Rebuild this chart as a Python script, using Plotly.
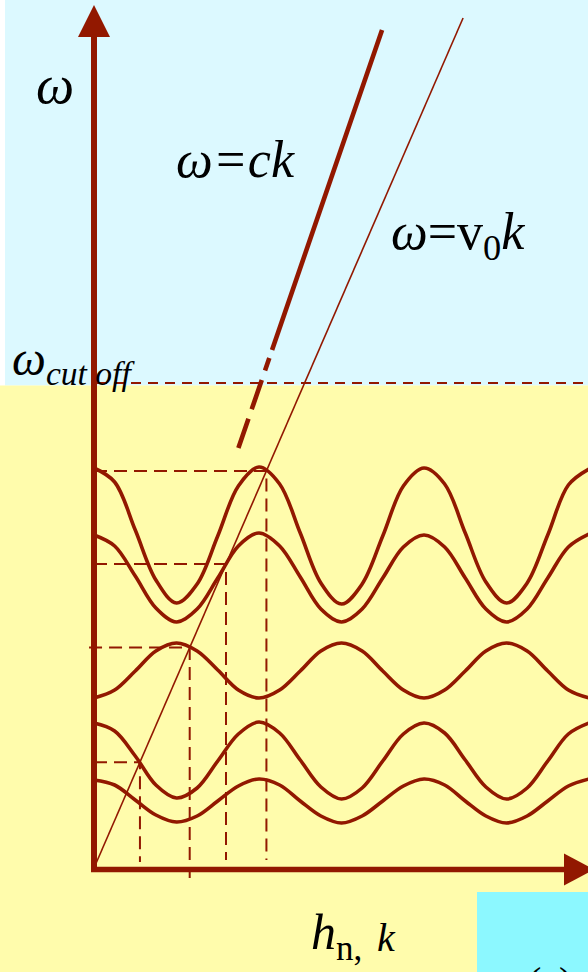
import plotly.graph_objects as go

# Canvas and the pixel frame of the (k, ω) axes
W, H = 588, 972
ORIGIN_PX = (94, 868)      # where k = 0, ω = 0 sits on the canvas
PX_PER_K = 82.5            # one unit of k (half a period of the bands)
PX_PER_W = 100.0           # one unit of ω


def kx(px):
    return (px - ORIGIN_PX[0]) / PX_PER_K


def wy(py):
    return (ORIGIN_PX[1] - py) / PX_PER_W


def paper_x(px):
    return px / W


def paper_y(py):
    return 1 - py / H


# ---- data -------------------------------------------------------------
k_samples = [0, 0.25, 0.5, 0.75, 1, 1.25, 1.5, 1.75, 2, 2.25, 2.5, 2.75, 3,
             3.25, 3.5, 3.75, 4, 4.25, 4.5, 4.75, 5, 5.25, 5.5, 5.75, 6]

band_1 = [4.00, 3.86, 3.38, 2.88, 2.65, 2.84, 3.32, 3.82, 4.01, 3.84, 3.35,
          2.85, 2.64, 2.84, 3.32, 3.82, 4.00, 3.84, 3.35, 2.86, 2.65, 2.85,
          3.33, 3.83, 3.99]
band_2 = [3.33, 3.22, 2.92, 2.60, 2.46, 2.59, 2.90, 3.22, 3.35, 3.22, 2.91,
          2.59, 2.46, 2.59, 2.90, 3.21, 3.33, 3.21, 2.90, 2.59, 2.46, 2.59,
          2.90, 3.21, 3.34]
band_3 = [1.70, 1.78, 1.97, 2.17, 2.25, 2.17, 1.98, 1.78, 1.70, 1.78, 1.97,
          2.17, 2.25, 2.17, 1.97, 1.78, 1.70, 1.78, 1.97, 2.17, 2.25, 2.17,
          1.97, 1.78, 1.70]
band_4 = [1.45, 1.37, 1.12, 0.83, 0.70, 0.80, 1.07, 1.34, 1.46, 1.35, 1.08,
          0.81, 0.69, 0.80, 1.07, 1.34, 1.45, 1.35, 1.08, 0.81, 0.69, 0.80,
          1.07, 1.34, 1.45]
band_5 = [0.88, 0.83, 0.68, 0.53, 0.46, 0.52, 0.67, 0.82, 0.89, 0.83, 0.67,
          0.52, 0.45, 0.52, 0.67, 0.82, 0.89, 0.83, 0.67, 0.52, 0.45, 0.52,
          0.67, 0.82, 0.89]
bands = [band_1, band_2, band_3, band_4, band_5]

c_light = 2.40             # slope of ω = ck
v0 = 1.90                  # slope of ω = v0 k
light_dashed_omega = [4.20, 5.10]
light_solid_omega = [5.18, 8.38]
beam_omega = [0.0, 8.50]
omega_cutoff = 4.85

# k where the beam line meets a band (dashed projections onto both axes)
crossing_k = [2.09, 1.60, 1.16, 0.557]
guide_left = [0.0, 0.0, -0.06, 0.0]        # start of the horizontal guides
guide_bottom = [0.08, 0.08, -0.10, 0.06]   # end of the vertical guides

RED = "#921800"
SERIF = "Liberation Serif, Times New Roman, serif"

fig = go.Figure()

for b in bands:
    fig.add_trace(go.Scatter(
        x=k_samples, y=b, mode="lines",
        line=dict(color=RED, width=3.6, shape="spline", smoothing=1.0),
        hoverinfo="skip", showlegend=False))

# ω = ck : dashed below, solid above
fig.add_trace(go.Scatter(
    x=[w / c_light for w in light_dashed_omega], y=light_dashed_omega,
    mode="lines", line=dict(color=RED, width=4.6, dash="31px,10px"),
    hoverinfo="skip", showlegend=False))
fig.add_trace(go.Scatter(
    x=[w / c_light for w in light_solid_omega], y=light_solid_omega,
    mode="lines", line=dict(color=RED, width=4.6),
    hoverinfo="skip", showlegend=False))

# ω = v0 k
fig.add_trace(go.Scatter(
    x=[w / v0 for w in beam_omega], y=beam_omega, mode="lines",
    line=dict(color=RED, width=1.6), hoverinfo="skip", showlegend=False))

# dashed projections of the crossings
for kc, x_start, y_end in zip(crossing_k, guide_left, guide_bottom):
    wc = v0 * kc
    fig.add_trace(go.Scatter(
        x=[x_start, kc, kc], y=[wc, wc, y_end], mode="lines",
        line=dict(color=RED, width=2.0, dash="13px,7px"),
        hoverinfo="skip", showlegend=False))

# cut-off level
fig.add_trace(go.Scatter(
    x=[kx(97), kx(590)], y=[omega_cutoff, omega_cutoff], mode="lines",
    line=dict(color=RED, width=1.8, dash="10px,7px"),
    hoverinfo="skip", showlegend=False))

shapes = [
    # backgrounds
    dict(type="rect", xref="paper", yref="paper", x0=paper_x(5), x1=1,
         y0=paper_y(385.5), y1=1, fillcolor="#DCF9FF", line_width=0,
         layer="below"),
    dict(type="rect", xref="paper", yref="paper", x0=0, x1=1,
         y0=0, y1=paper_y(385.5), fillcolor="#FFFCAC", line_width=0,
         layer="below"),
    dict(type="rect", xref="paper", yref="paper", x0=paper_x(477), x1=1,
         y0=0, y1=paper_y(892), fillcolor="#8CF8FF", line_width=0,
         layer="below"),
    # ω axis
    dict(type="line", xref="x", yref="y", x0=0, x1=0,
         y0=wy(872), y1=wy(34), line=dict(color=RED, width=6)),
    dict(type="path", xref="x", yref="y",
         path=f"M {kx(78)},{wy(37)} L {kx(110)},{wy(37)} L {kx(94)},{wy(5)} Z",
         fillcolor=RED, line_width=0),
    # k axis
    dict(type="line", xref="x", yref="y", x0=kx(91), x1=kx(566),
         y0=wy(869.5), y1=wy(869.5), line=dict(color=RED, width=5.5)),
    dict(type="path", xref="x", yref="y",
         path=f"M {kx(564)},{wy(853.5)} L {kx(564)},{wy(885.5)} L {kx(594)},{wy(869.5)} Z",
         fillcolor=RED, line_width=0),
]

def label(text, px, py, size, xanchor="left", yanchor="bottom", color="black"):
    return dict(text=text, xref="paper", yref="paper",
                x=paper_x(px), y=paper_y(py), xanchor=xanchor, yanchor=yanchor,
                showarrow=False, font=dict(family=SERIF, size=size, color=color))

annotations = [
    label("<i>ω</i>", 34, 117, 54),
    label("<i>ω</i><sub><i>cut off</i></sub>", 10, 394, 48),
    label("<i>ω=ck</i>", 174, 190, 52),
    label("<i>ω</i>=v<sub>0</sub><i>k</i>", 389, 270, 52),
    label("<i>h</i><sub>n,</sub>", 309, 970, 50),
    label("<i>k</i>", 375, 962, 40),
    label("(a)", 526, 957, 40, yanchor="top"),
]

fig.update_layout(
    width=W, height=H,
    margin=dict(l=0, r=0, t=0, b=0),
    paper_bgcolor="white", plot_bgcolor="rgba(0,0,0,0)",
    xaxis=dict(range=[kx(0), kx(W)], visible=False, fixedrange=True),
    yaxis=dict(range=[wy(H), wy(0)], visible=False, fixedrange=True),
    shapes=shapes, annotations=annotations,
    showlegend=False,
)

fig.write_html("out.html")
